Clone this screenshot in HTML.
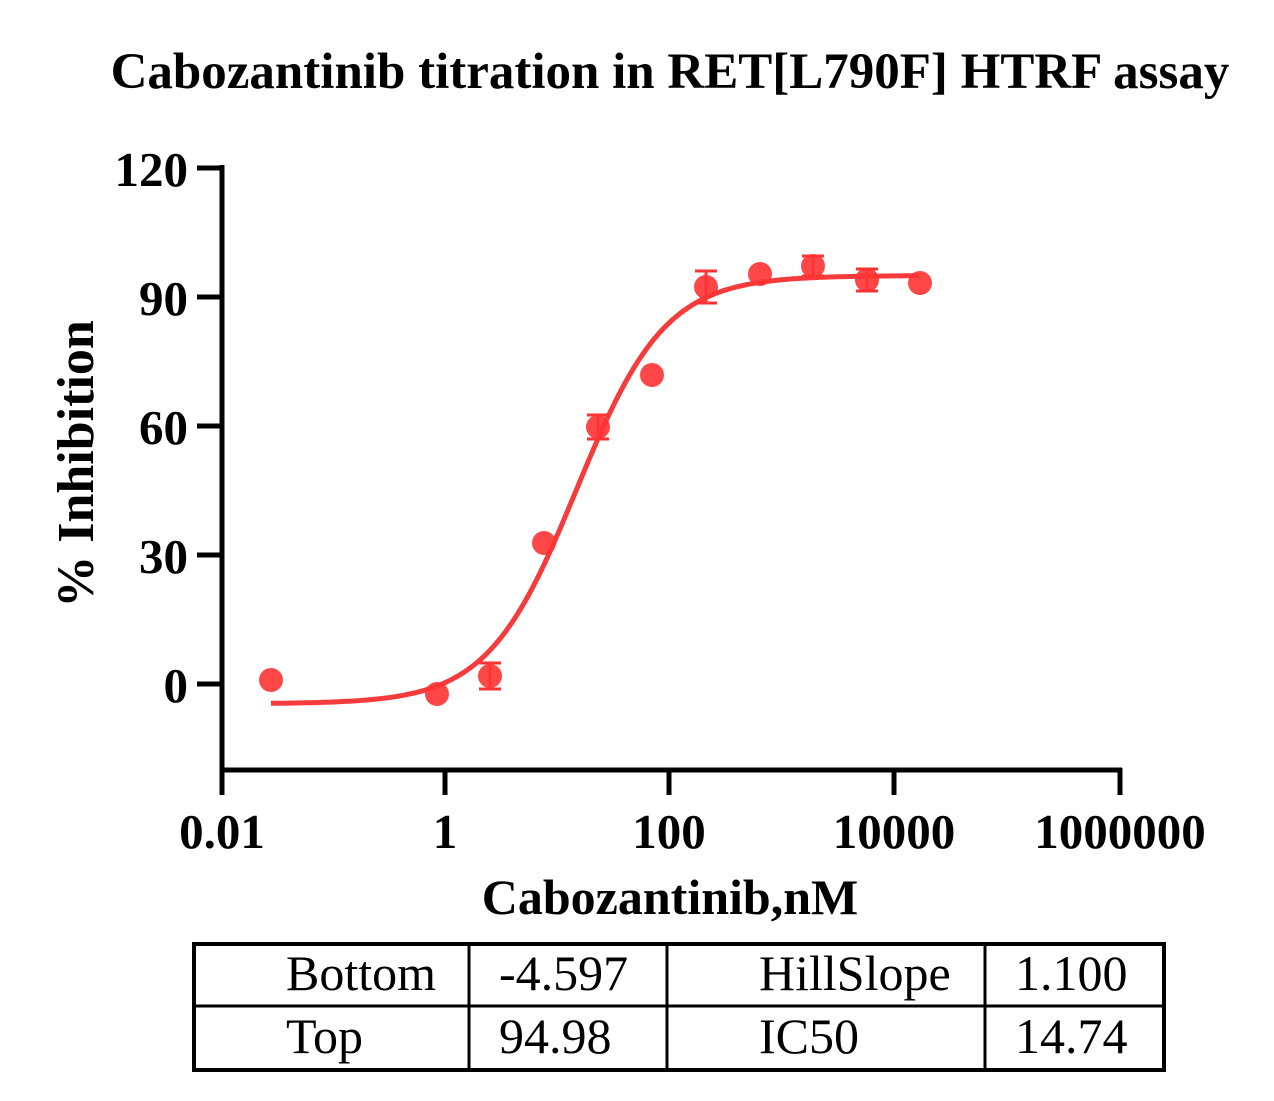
<!DOCTYPE html>
<html><head><style>
body{margin:0;background:#fff;}
svg{display:block;font-family:"Liberation Serif",serif;}
</style></head><body>
<svg width="1274" height="1101" viewBox="0 0 1274 1101">
<text x="670" y="88" text-anchor="middle" font-size="51" font-weight="bold">Cabozantinib titration in RET[L790F] HTRF assay</text>
<g stroke="#000" stroke-width="5" fill="none">
<path d="M222 165 V770 H1122"/>
<path d="M197 168 H222 M197 297 H222 M197 426 H222 M197 555 H222 M197 684 H222"/>
<path d="M222 768 V795 M445 768 V795 M669 768 V795 M894 768 V795 M1120 768 V795"/>
</g>
<g font-size="49" font-weight="bold" text-anchor="end">
<text x="188" y="186">120</text><text x="188" y="315">90</text><text x="188" y="444">60</text><text x="188" y="573">30</text><text x="188" y="702">0</text>
</g>
<g font-size="49" font-weight="bold" text-anchor="middle">
<text x="222" y="848">0.01</text><text x="445" y="848">1</text><text x="669" y="848">100</text><text x="894" y="848">10000</text><text x="1120" y="848">1000000</text>
</g>
<text x="670" y="914" text-anchor="middle" font-size="50" font-weight="bold">Cabozantinib,nM</text>
<text transform="translate(93,464) rotate(-90)" text-anchor="middle" font-size="52" font-weight="bold">% Inhibition</text>
<path id="curve" fill="none" stroke="#f53b3b" stroke-width="5"/>
<g fill="#f33" fill-opacity="0.9">
<circle cx="271" cy="680" r="12"/><circle cx="437" cy="694" r="12"/><circle cx="490" cy="676" r="12"/><circle cx="544" cy="543" r="12"/><circle cx="598" cy="427" r="12"/><circle cx="652" cy="375" r="12"/><circle cx="706" cy="287" r="12"/><circle cx="760" cy="274" r="12"/><circle cx="813" cy="266" r="12"/><circle cx="867" cy="280" r="12"/><circle cx="920" cy="283" r="12"/>
</g>
<g stroke="#f33" stroke-width="3" fill="none">
<path d="M490 663 V689 M479 663 H501 M479 689 H501"/>
<path d="M598 415 V439 M587 415 H609 M587 439 H609"/>
<path d="M706 271 V303 M695 271 H717 M695 303 H717"/>
<path d="M813 256 V276 M802 256 H824 M802 276 H824"/>
<path d="M867 269 V291 M856 269 H878 M856 291 H878"/>
</g>
<g stroke="#000" fill="none">
<rect x="194" y="944" width="970" height="126" stroke-width="4"/>
<path d="M194 1006 H1164 M469 944 V1070 M667 944 V1070 M985 944 V1070" stroke-width="3"/>
</g>
<g font-size="50">
<text x="286" y="990">Bottom</text><text x="499" y="990">-4.597</text><text x="759" y="990">HillSlope</text><text x="1015" y="990">1.100</text>
<text x="286" y="1053">Top</text><text x="499" y="1053">94.98</text><text x="759" y="1053">IC50</text><text x="1015" y="1053">14.74</text>
</g>
<script>
var d="";for(var px=271;px<=920;px+=2){var lc=(px-220)/112.5-2;var v=-4.597+(94.98+4.597)/(1+Math.pow(10,(Math.log10(14.74)-lc)*1.1));var py=684-v*4.3;d+=(d?"L":"M")+px+" "+py.toFixed(1);}
document.getElementById("curve").setAttribute("d",d);
</script>
</svg>
</body></html>
